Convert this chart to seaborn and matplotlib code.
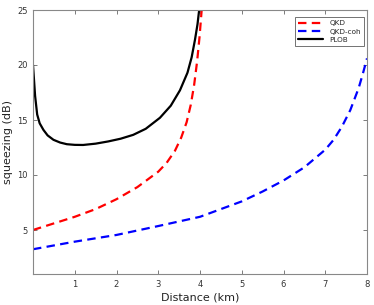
import matplotlib
matplotlib.use("Agg")
import matplotlib.pyplot as plt
import seaborn as sns
import pandas as pd

# PLOB (black solid)
plob_d = [0.0, 0.05, 0.1, 0.16, 0.25, 0.35, 0.49, 0.65, 0.81, 1.0, 1.2, 1.5, 1.8, 2.1, 2.4, 2.7, 3.04, 3.3, 3.52, 3.7, 3.8, 3.88, 3.94, 3.98]
plob_y = [20.0, 17.2, 15.5, 14.7, 14.1, 13.6, 13.2, 12.95, 12.8, 12.74, 12.73, 12.85, 13.05, 13.3, 13.65, 14.2, 15.2, 16.3, 17.7, 19.3, 20.7, 22.3, 23.7, 25.0]

# QKD (red dashed)
qkd_d = [0.0, 0.5, 1.0, 1.5, 2.0, 2.5, 3.0, 3.2, 3.4, 3.55, 3.68, 3.78, 3.86, 3.93, 3.99, 4.04]
qkd_y = [5.0, 5.6, 6.2, 6.9, 7.8, 8.9, 10.3, 11.1, 12.2, 13.4, 14.8, 16.4, 18.2, 20.3, 22.6, 25.0]

# QKD-coh (blue dashed)
coh_d = [0.0, 1.0, 2.0, 3.0, 4.0, 5.0, 5.5, 6.0, 6.5, 7.0, 7.2, 7.4, 7.6, 7.8, 7.9, 8.0]
coh_y = [3.25, 3.94, 4.55, 5.36, 6.2, 7.6, 8.5, 9.5, 10.7, 12.3, 13.2, 14.4, 15.9, 17.9, 19.2, 20.6]

xticks = [1, 2, 3, 4, 5, 6, 7, 8]
yticks = [5, 10, 15, 20, 25]

sns.set_style("white")
plt.rcParams['font.family'] = ['DejaVu Sans']

fig = plt.figure(figsize=(3.74, 3.05), dpi=100)
ax = fig.add_axes([33/374, 1-274/305, (367-33)/374, (274-10)/305])

df_qkd = pd.DataFrame({"d": qkd_d, "y": qkd_y})
df_coh = pd.DataFrame({"d": coh_d, "y": coh_y})
df_plob = pd.DataFrame({"d": plob_d, "y": plob_y})

sns.lineplot(data=df_qkd, x="d", y="y", ax=ax, color="#ff0000", lw=1.6,
             dashes=False, label="QKD", sort=False)
sns.lineplot(data=df_coh, x="d", y="y", ax=ax, color="#0000ff", lw=1.6,
             dashes=False, label="QKD-coh", sort=False)
sns.lineplot(data=df_plob, x="d", y="y", ax=ax, color="black", lw=1.6,
             dashes=False, label="PLOB", sort=False)
for ln in ax.lines[:2]:
    ln.set_linestyle((0, (3.8, 2.4)))

ax.set_xlim(0, 8)
ax.set_ylim(1, 25)
ax.set_xticks(xticks)
ax.set_yticks(yticks)
ax.set_xticklabels([str(t) for t in xticks])
ax.set_yticklabels([str(t) for t in yticks])
ax.tick_params(direction="in", length=3, width=0.6, colors="#666666",
               labelsize=6, labelcolor="#333333", top=True, right=True,
               bottom=True, left=True, pad=4)
for s in ax.spines.values():
    s.set_visible(True)
    s.set_color("#888888")
    s.set_linewidth(0.8)

ax.set_xlabel("Distance (km)", fontsize=8, color="#222222", labelpad=3)
ax.set_ylabel("squeezing (dB)", fontsize=8, color="#222222", labelpad=3)

leg = ax.legend(loc="upper right", fontsize=5.2, frameon=True, fancybox=False,
                handlelength=3.4, borderpad=0.45, labelspacing=0.3,
                bbox_to_anchor=(0.991, 0.973), handletextpad=0.9,
                borderaxespad=0)
leg.get_frame().set_edgecolor("#333333")
leg.get_frame().set_linewidth(0.6)

fig.savefig("out.png", dpi=100)
